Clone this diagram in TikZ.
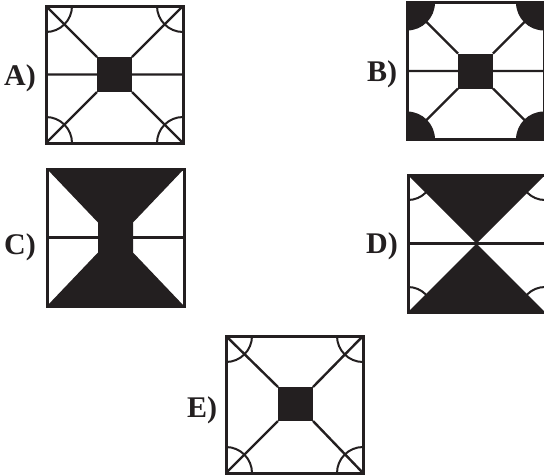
\documentclass[tikz,border=0pt]{standalone}
\usepackage{fontspec}
\setmainfont{Liberation Serif}
\definecolor{ink}{RGB}{35,31,32}
\begin{document}
\begin{tikzpicture}[x=1pt,y=-1pt,
  frame/.style={draw=ink,line width=3pt},
  inner/.style={draw=ink,line width=2.4pt},
  arcline/.style={draw=ink,line width=2pt},
  lbl/.style={font=\fontsize{30}{32}\selectfont\bfseries,text=ink,inner sep=0pt}]
\useasboundingbox (0,0) rectangle (544,475);
\clip (0,0) rectangle (544,475);
% ---------- A ----------
\begin{scope}[shift={(46,6)}]
  \begin{scope}
    \clip (0,0) rectangle (137,137);
    \foreach \p in {(0,0),(137,0),(0,137),(137,137)} \draw[arcline] \p circle[radius=26pt];
  \end{scope}
  \draw[inner] (0,0)--(51,51) (137,0)--(86,51) (0,137)--(51,86) (137,137)--(86,86)
    (0,68.5)--(51,68.5) (86,68.5)--(137,68.5);
  \fill[ink] (51,51) rectangle (86,86);
  \draw[frame] (0,0) rectangle (137,137);
\end{scope}
% ---------- B ----------
\begin{scope}[shift={(407,2.5)}]
  \begin{scope}
    \clip (0,0) rectangle (137,137);
    \foreach \p in {(0,0),(137,0),(0,137),(137,137)} \fill[ink] \p circle[radius=28pt];
  \end{scope}
  \draw[inner] (0,0)--(51,51) (137,0)--(86,51) (0,137)--(51,86) (137,137)--(86,86)
    (0,68.5)--(51,68.5) (86,68.5)--(137,68.5);
  \fill[ink] (51,51) rectangle (86,86);
  \draw[frame] (0,0) rectangle (137,137);
\end{scope}
% ---------- C ----------
\begin{scope}[shift={(47,169)}]
  \draw[inner] (0,68.5)--(137,68.5);
  \fill[ink] (0,0)--(137,0)--(86,53.5)--(86,83.5)--(137,137)--(0,137)--(51,83.5)--(51,53.5)--cycle;
  \draw[frame] (0,0) rectangle (137,137);
\end{scope}
% ---------- D ----------
\begin{scope}[shift={(408,175)}]
  \begin{scope}
    \clip (0,0) rectangle (137,137);
    \foreach \p in {(0,0),(137,0),(0,137),(137,137)} \draw[arcline] \p circle[radius=25pt];
  \end{scope}
  \draw[inner] (0,68.5)--(137,68.5);
  \fill[ink] (0,0)--(137,0)--(68.5,68.5)--cycle;
  \fill[ink] (0,137)--(137,137)--(68.5,68.5)--cycle;
  \draw[frame] (0,0) rectangle (137,137);
\end{scope}
% ---------- E ----------
\begin{scope}[shift={(226,336)}]
  \begin{scope}
    \clip (0,0) rectangle (137,137);
    \foreach \p in {(0,0),(137,0),(0,137),(137,137)} \draw[arcline] \p circle[radius=26pt];
  \end{scope}
  \draw[inner] (0,0)--(52,51) (137,0)--(87,51) (0,137)--(52,85) (137,137)--(87,85);
  \fill[ink] (52,51) rectangle (87,85);
  \draw[frame] (0,0) rectangle (137,137);
\end{scope}
% ---------- labels ----------
\node[lbl] (labA) at (20,78) {A)};
\node[lbl] (labB) at (382,74) {B)};
\node[lbl] (labC) at (20,247) {C)};
\node[lbl] (labD) at (382,246) {D)};
\node[lbl] (labE) at (202,410) {E)};
\end{tikzpicture}
\end{document}
